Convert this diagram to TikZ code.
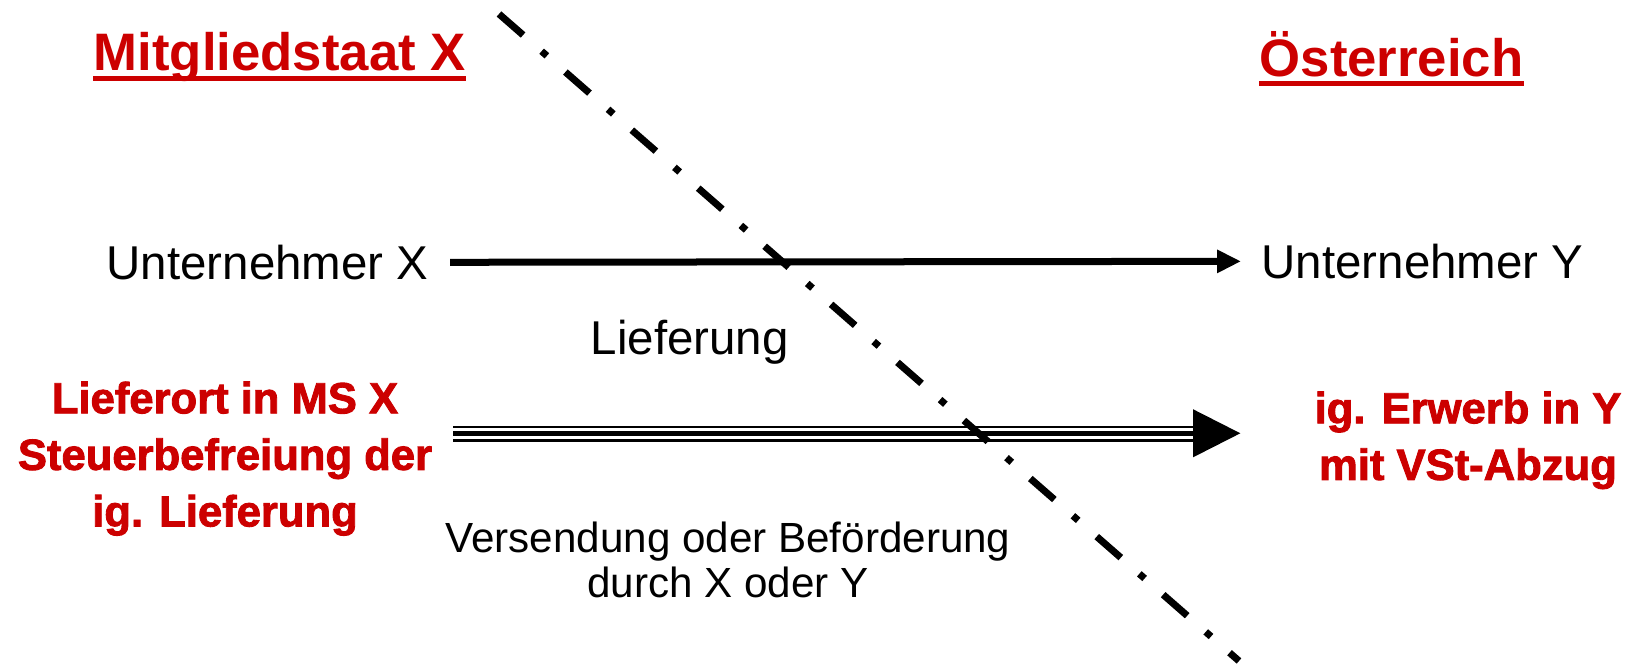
\documentclass[tikz,border=0pt]{standalone}
\usepackage{fontspec}
\setmainfont{Liberation Sans}
\newfontfamily\fettschrift{Liberation Sans Bold}[FakeBold=2]
\usetikzlibrary{arrows.meta}
\definecolor{dunkelrot}{RGB}{204,0,0}

\begin{document}
\begin{tikzpicture}[
    land/.style={text=dunkelrot, font=\fontsize{15}{18}\selectfont\bfseries, inner sep=0pt, anchor=base west},
    firma/.style={font=\fontsize{13.5}{16}\selectfont, inner sep=0pt, anchor=base west},
    folge/.style={text=dunkelrot, font=\fontsize{12.4}{16.1}\fettschrift, inner sep=0pt, align=center, anchor=north},
    grenze/.style={line width=0.07cm, dash pattern=on 9.1pt off 7pt on 2pt off 7pt}]
  \useasboundingbox (0,0) rectangle (16.25,6.68);
  % Laender mit Unterstrich
  \node[land] (ms) at (0.93,5.97) {Mitgliedstaat X};
  \node[land] (oe) at (12.59,5.915) {Österreich};
  \foreach \s in {ms,oe}
    \draw[dunkelrot, line width=0.05cm] ([yshift=-0.075cm]\s.base west) -- ([yshift=-0.075cm]\s.base east);
  % Lieferung
  \node[firma] (ux) at (1.06,3.887) {Unternehmer X};
  \node[firma] (uy) at (12.61,3.897) {Unternehmer Y};
  \draw[line width=0.07cm, -{Triangle[length=0.24cm,width=0.22cm]}, shorten <=0.21cm, shorten >=0.2cm] (ux.east) -- (uy.west);
  \node[firma] (lf) at (5.90,3.137) {Lieferung};
  % Warenbewegung
  \coordinate (vs) at (4.53,2.347);
  \coordinate (ve) at (12.405,2.347);
  \draw[line width=0.053cm, -{Triangle[length=0.475cm,width=0.467cm]}] (vs) -- (ve);
  \foreach \d/\w in {0.066/0.02, -0.072/0.023}
    \draw[line width=\w cm] ([yshift=\d cm]vs) -- ([yshift=\d cm, xshift=-0.47cm]ve);
  \node[font=\fontsize{12}{12.97}\selectfont, inner sep=0pt, align=center, anchor=north] (vb) at (7.28,1.47)
    {Versendung oder Beförderung\\durch X oder Y};
  % Folgen in beiden Staaten
  \node[folge] (fx) at (2.25,2.87) {Lieferort in MS X\\Steuerbefreiung der\\ig. Lieferung};
  \node[folge] (fy) at (14.68,2.77) {ig. Erwerb in Y\\mit VSt-Abzug};
  % Grenze
  \coordinate (g1) at (4.99,6.54);
  \coordinate (g2) at (12.39,0.07);
  \draw[grenze] (g1) -- (g2);
\end{tikzpicture}
\end{document}
